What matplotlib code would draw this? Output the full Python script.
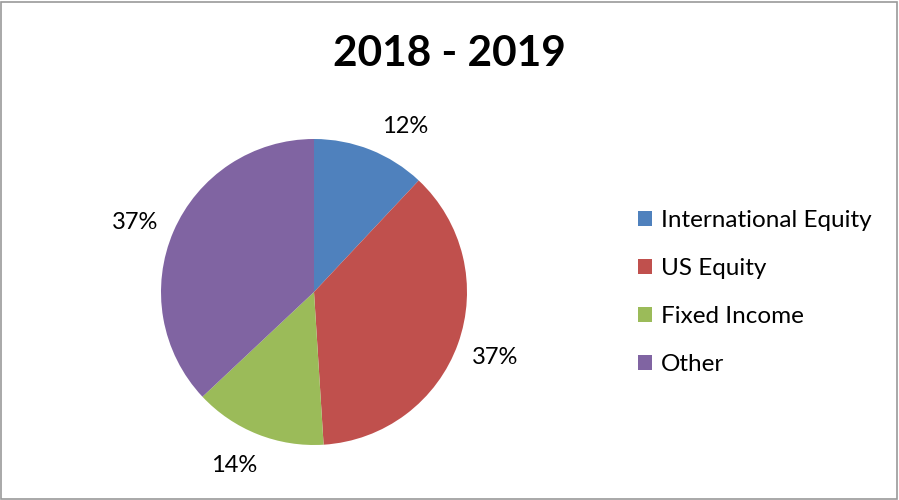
import matplotlib
matplotlib.use('Agg')
import matplotlib.pyplot as plt
from matplotlib.patches import Rectangle

plt.rcParams['font.family'] = ['Lato', 'DejaVu Sans']

title = '2018 - 2019'
categories = ['International Equity', 'US Equity', 'Fixed Income', 'Other']
values = [12, 37, 14, 37]
colors = ['#4F81BD', '#C0504D', '#9BBB59', '#8064A2']


def main():
    fig = plt.figure(figsize=(8.99, 5.0), dpi=100)

    # pie area: centre ~ (314, 292) px, radius ~153 px
    ax = fig.add_axes([161 / 899, 55 / 500, 306 / 899, 306 / 500])
    wedges, texts, autotexts = ax.pie(
        values, colors=colors, startangle=90, counterclock=False,
        autopct='%d%%', pctdistance=1.26, radius=1,
        textprops={'fontsize': 17, 'color': 'black'})
    ax.set_xlim(-1, 1)
    ax.set_ylim(-1, 1)
    ax.set_aspect('equal')

    # small nudges like excel's best-fit labels
    nudges = [(0.13, -0.09), (0.0, 0.0), (-0.06, 0.04), (-0.01, -0.045)]
    for t, (dx, dy) in zip(autotexts, nudges):
        x, y = t.get_position()
        t.set_position((x + dx, y + dy))

    fig.text(0.5, 0.893, title, ha='center', va='center',
             fontsize=30.5, fontweight='bold')

    fig.legend(wedges, categories, loc='center left',
               bbox_to_anchor=(616 / 899, 0.415), frameon=False,
               fontsize=17.5, handlelength=0.6, handleheight=0.6,
               handletextpad=0.35, labelspacing=1.11)

    fig.patches.append(Rectangle((0.001, 0.003), 0.997, 0.994,
                                 transform=fig.transFigure, fill=False,
                                 edgecolor='#9A9A9A', linewidth=1.2))

    plt.savefig('out.png', dpi=100)


if __name__ == '__main__':
    main()
